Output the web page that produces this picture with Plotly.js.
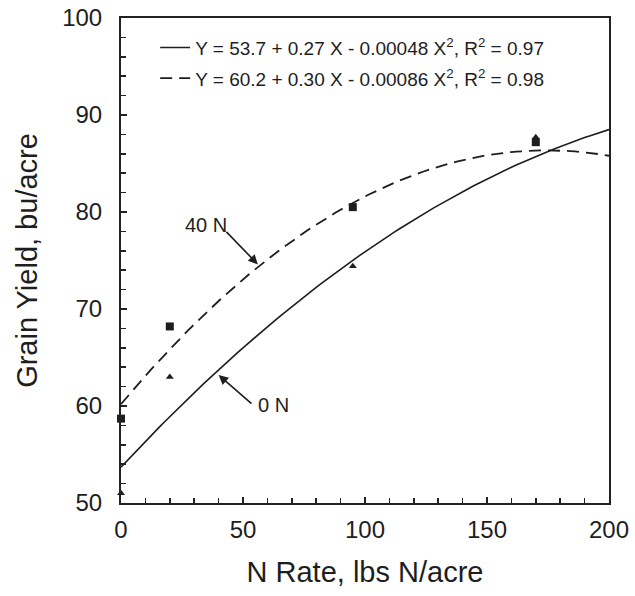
<!DOCTYPE html>
<html>
<head>
<meta charset="utf-8">
<script src="https://cdn.plot.ly/plotly-3.0.1.min.js"></script>
<style>
  html, body { margin: 0; padding: 0; background: #ffffff; }
  #chart { width: 635px; height: 596px; }
</style>
</head>
<body>
<div id="chart"></div>
<script>
// Observed grain yield by N rate, for the 0 N and 40 N treatments
const nRate = [0, 20, 95, 170];
const yield0N = [51.0, 63.0, 74.4, 87.7];
const yield40N = [58.7, 68.2, 80.5, 87.2];

// Quadratic fits: Y = a + b X + c X^2
const fit0N = [53.7, 0.27, -0.00048];
const fit40N = [60.2, 0.30, -0.00086];
const fitLabels = [
  'Y = 53.7 + 0.27 X - 0.00048 X<sup>2</sup>, R<sup>2</sup> = 0.97',
  'Y = 60.2 + 0.30 X - 0.00086 X<sup>2</sup>, R<sup>2</sup> = 0.98'
];

// Axis ranges and tick spacing (major / minor)
const xRange = [0, 200];
const yRange = [50, 100];
const xTickStep = [50, 10];
const yTickStep = [10, 2];

// Evaluate a fitted quadratic across the N-rate range
const fitX = [];
for (let x = 0; x <= 200; x += 2) fitX.push(x);
const evalFit = (c) => fitX.map(x => c[0] + c[1] * x + c[2] * x * x);

const FONT = 'Liberation Sans, Arial, Helvetica, sans-serif';
const INK = '#1e1e1e';
const AXIS = '#222222';

const traces = [
  {
    x: fitX, y: evalFit(fit0N), mode: 'lines', name: fitLabels[0],
    line: { color: INK, width: 1.6 }, legendgroup: 'a'
  },
  {
    x: fitX, y: evalFit(fit40N), mode: 'lines', name: fitLabels[1],
    line: { color: INK, width: 1.8, dash: '12px,7px' }, legendgroup: 'b'
  },
  {
    x: nRate, y: yield0N, mode: 'markers', showlegend: false, cliponaxis: false,
    marker: { symbol: 'triangle-up', size: 7, color: INK }
  },
  {
    x: nRate, y: yield40N, mode: 'markers', showlegend: false, cliponaxis: false,
    marker: { symbol: 'square', size: 8, color: INK }
  }
];

const layout = {
  width: 635, height: 596,
  margin: { l: 121, r: 26, t: 18, b: 93 },
  paper_bgcolor: '#ffffff', plot_bgcolor: '#ffffff',
  font: { family: FONT, color: INK },
  showlegend: true,
  legend: {
    x: 0.07, y: 0.978, xanchor: 'left', yanchor: 'top',
    bgcolor: 'rgba(0,0,0,0)', borderwidth: 0,
    font: { size: 19, family: FONT, color: INK },
    tracegroupgap: 3
  },
  xaxis: {
    range: xRange, tickmode: 'linear', tick0: 0, dtick: xTickStep[0],
    ticks: 'inside', ticklen: 6, tickwidth: 1.7, tickcolor: AXIS,
    minor: { tickmode: 'linear', tick0: 0, dtick: xTickStep[1], ticks: 'inside', ticklen: 5, tickwidth: 1.6, tickcolor: AXIS },
    showline: true, linecolor: AXIS, linewidth: 2, mirror: true,
    showgrid: false, zeroline: false,
    tickfont: { size: 24, family: FONT, color: INK },
    ticklabelstandoff: 4,
    title: { text: 'N Rate, lbs N/acre', font: { size: 29, family: FONT, color: INK }, standoff: 20 }
  },
  yaxis: {
    range: yRange, tickmode: 'linear', tick0: 0, dtick: yTickStep[0],
    ticks: 'inside', ticklen: 6, tickwidth: 1.7, tickcolor: AXIS,
    minor: { tickmode: 'linear', tick0: 0, dtick: yTickStep[1], ticks: 'inside', ticklen: 5, tickwidth: 1.6, tickcolor: AXIS },
    showline: true, linecolor: AXIS, linewidth: 2, mirror: true,
    showgrid: false, zeroline: false,
    tickfont: { size: 24, family: FONT, color: INK },
    ticklabelstandoff: 12,
    title: { text: 'Grain Yield, bu/acre', font: { size: 29, family: FONT, color: INK }, standoff: 16 }
  },
  annotations: [
    // treatment labels
    { x: 34.8, y: 78.7, xref: 'x', yref: 'y', text: '40 N', showarrow: false,
      font: { size: 20, family: FONT, color: INK } },
    { x: 62.7, y: 60.1, xref: 'x', yref: 'y', text: '0 N', showarrow: false,
      font: { size: 20, family: FONT, color: INK } },
    // arrows pointing to each fitted curve
    { x: 56.1, y: 74.6, ax: 42.6, ay: 78.1, xref: 'x', yref: 'y', axref: 'x', ayref: 'y',
      text: '', showarrow: true, arrowhead: 2, arrowsize: 1.2, arrowwidth: 1.6, arrowcolor: INK },
    { x: 40.0, y: 63.2, ax: 54.1, ay: 60.1, xref: 'x', yref: 'y', axref: 'x', ayref: 'y',
      text: '', showarrow: true, arrowhead: 2, arrowsize: 1.2, arrowwidth: 1.6, arrowcolor: INK }
  ]
};

Plotly.newPlot('chart', traces, layout, { displayModeBar: false, staticPlot: true });
</script>
</body>
</html>
